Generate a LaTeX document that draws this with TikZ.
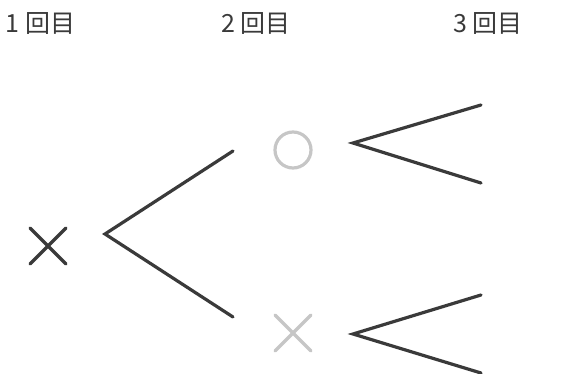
\documentclass[tikz,border=0pt]{standalone}
\usepackage{fontspec}
\newfontfamily\jp{Noto Sans CJK JP}
\usetikzlibrary{shapes.misc}
\definecolor{ink}{HTML}{3A3A3A}
\definecolor{soft}{HTML}{C6C6C6}
\tikzset{
  branch/.style={draw=ink, line width=3.2pt, line cap=round, line join=miter},
  lbl/.style={anchor=base west, inner sep=0pt, text=ink, font=\jp\fontsize{25}{25}\selectfont},
  xmark/.style={cross out, draw=#1, line width=3.2pt, line cap=round, minimum size=33pt, inner sep=0pt},
  omark/.style={circle, draw=soft, line width=3.2pt, minimum size=36pt, inner sep=0pt},
}
\begin{document}
\begin{tikzpicture}[x=1pt,y=-1pt]
\useasboundingbox (0,0) rectangle (579,374);
\node[lbl] (l1) at (5,33) {1\hspace{6pt}回目};
\node[lbl] (l2) at (221,33) {2\hspace{5pt}回目};
\node[lbl] (l3) at (453,33) {3\hspace{5pt}回目};

\node[xmark=ink] (x1) at (48,246) {};
\node[omark] (o2) at (293,150) {};
\node[xmark=soft] (x2) at (293,333) {};

\coordinate (v1) at (105,234);
\coordinate (v1u) at (233,151);
\coordinate (v1d) at (233,317);
\coordinate (v2) at (353,143);
\coordinate (v2u) at (481,105);
\coordinate (v2d) at (481,183);
\coordinate (v3) at (353,334);
\coordinate (v3u) at (481,295);
\coordinate (v3d) at (481,373);

\draw[branch] (v1u) -- (v1) -- (v1d);
\draw[branch] (v2u) -- (v2) -- (v2d);
\draw[branch] (v3u) -- (v3) -- (v3d);
\end{tikzpicture}
\end{document}
